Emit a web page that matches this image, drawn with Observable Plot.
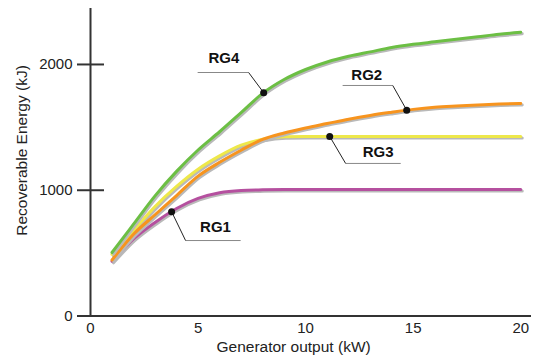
<!DOCTYPE html>
<html><head><meta charset="utf-8">
<script src="https://cdn.jsdelivr.net/npm/d3@7"></script>
<script src="https://cdn.jsdelivr.net/npm/@observablehq/plot@0.6"></script>
<style>body{margin:0;background:#fff}#chart{width:533px;height:358px}</style>
</head><body><div id="chart"></div>
<script>
// Generator output (kW)
const outputs = [1,2,3,4,5,6,7,8,9,10,11,12,13,14,15,16,17,18,19,20];
// Recoverable energy (kJ)
const rg1 = [435,613,744,855,935,980,998,1003,1005,1005,1005,1005,1005,1005,1005,1005,1005,1005,1005,1005];
const rg3 = [490,680,870,1030,1167,1273,1358,1405,1425,1428,1428,1428,1428,1428,1428,1428,1428,1428,1428,1428];
const rg2 = [445,650,805,958,1112,1222,1318,1404,1455,1495,1530,1565,1595,1620,1643,1660,1670,1678,1685,1690];
const rg4 = [505,730,955,1150,1320,1465,1617,1770,1880,1960,2020,2065,2100,2135,2160,2180,2200,2220,2240,2256];
const seriesNames = ["RG1","RG3","RG2","RG4"];
const seriesValues = [rg1, rg3, rg2, rg4];
const seriesColors = ["#b5509f","#eee84a","#f7941e","#6cbf44"];
const yTicks = [0,1000,2000];
const xTicks = [0,5,10,15,20];
const xTitle = "Generator output (kW)";
const yTitle = "Recoverable Energy (kJ)";

// callout anchors (data units): dot x, elbow, underline end, label centre
const callouts = [
  {name:"RG4", dotX:8.05, elbow:[7.35,1936], end:[4.98,1936], label:[6.2,2048]},
  {name:"RG2", dotX:14.7, elbow:[14.05,1833], end:[11.72,1833], label:[12.84,1912]},
  {name:"RG3", dotX:11.12, elbow:[11.86,1213], end:[14.42,1213], label:[13.37,1300]},
  {name:"RG1", dotX:3.77, elbow:[4.42,600], end:[6.98,600], label:[5.81,704]}
];
// axis title anchors (data units)
const xTitlePos = [9.44, -245];
const yTitlePos = [-3.2, 1316];

const rows = [];
seriesNames.forEach((n,i) => outputs.forEach((x,j) => rows.push({series:n, x, y:seriesValues[i][j]})));
function interp(name, x){
  const v = seriesValues[seriesNames.indexOf(name)];
  const i = Math.max(0, Math.min(outputs.length-2, d3.bisectRight(outputs, x)-1));
  const t = (x - outputs[i])/(outputs[i+1]-outputs[i]);
  return v[i] + t*(v[i+1]-v[i]);
}
const dots = callouts.map(c => ({x:c.dotX, y:interp(c.name, c.dotX)}));
const diag = callouts.map((c,i) => ({x1:dots[i].x, y1:dots[i].y, x2:c.elbow[0], y2:c.elbow[1]}));
const under = callouts.map(c => ({x1:c.elbow[0], y1:c.elbow[1], x2:c.end[0], y2:c.end[1]}));
const labels = callouts.map(c => ({name:c.name, x:c.label[0], y:c.label[1]}));

const marks = [];
seriesNames.forEach((n,i) => {
  const d = rows.filter(r => r.series === n);
  marks.push(Plot.line(d, {x:"x", y:"y", stroke:"#b9b9b9", strokeWidth:3, dx:1.5, dy:1.5, curve:"monotone-x"}));
  marks.push(Plot.line(d, {x:"x", y:"y", stroke:seriesColors[i], strokeWidth:3, curve:"monotone-x"}));
});

const chart = Plot.plot({
  width:533, height:358,
  marginLeft:90, marginRight:2, marginTop:8, marginBottom:42.5,
  style:{fontFamily:"'Liberation Sans', Arial, sans-serif", fontSize:"15px", color:"#222", background:"#fff", overflow:"visible"},
  x:{domain:[0,20.5]},
  y:{domain:[0,2445]},
  marks:[
    ...marks,
    Plot.link(under, {x1:"x1", y1:"y1", x2:"x2", y2:"y2", stroke:"#888", strokeWidth:1}),
    Plot.link(diag, {x1:"x1", y1:"y1", x2:"x2", y2:"y2", stroke:"#222", strokeWidth:1}),
    Plot.dot(dots, {x:"x", y:"y", r:3.5, fill:"#111"}),
    Plot.text(labels, {x:"x", y:"y", text:"name", fontWeight:"bold", fontSize:15, fill:"#111"}),
    Plot.ruleX([0], {stroke:"#333", strokeWidth:2}),
    Plot.ruleY([0], {stroke:"#333", strokeWidth:2}),
    Plot.ruleY(yTicks.filter(t => t > 0), {x1:0, x2:0.65, stroke:"#333", strokeWidth:2}),
    Plot.axisY({ticks:yTicks, tickFormat:d => String(d), tickSize:13, tickPadding:5, label:null, stroke:"#333", strokeWidth:2, fontSize:15}),
    Plot.axisX({ticks:xTicks, tickFormat:d => String(d), tickSize:0, tickPadding:6.5, label:null, fontSize:15}),
    Plot.text([xTitle], {x:xTitlePos[0], y:xTitlePos[1], text:d => d, lineAnchor:"middle", fontSize:15.5, fill:"#222"}),
    Plot.text([yTitle], {x:yTitlePos[0], y:yTitlePos[1], text:d => d, rotate:-90, lineAnchor:"middle", fontSize:15.5, fill:"#222"})
  ]
});
document.getElementById("chart").append(chart);
</script></body></html>
